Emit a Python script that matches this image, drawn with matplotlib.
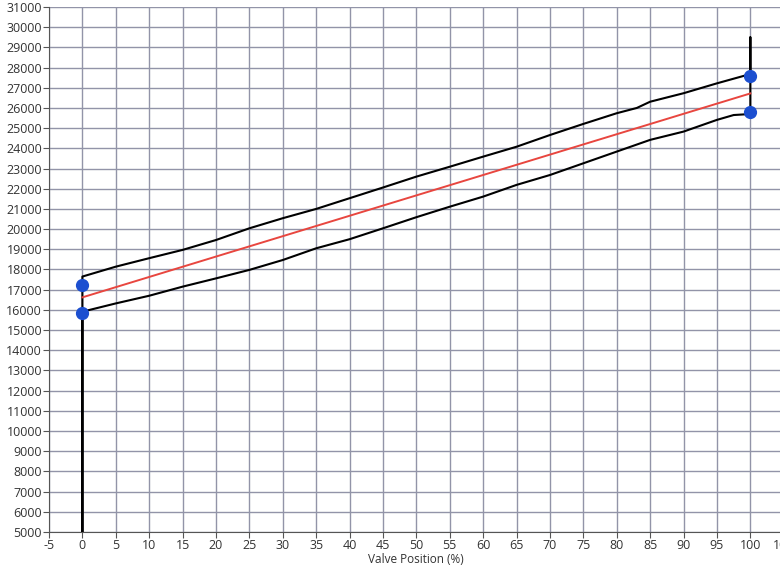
import matplotlib
matplotlib.use("Agg")
from matplotlib import pyplot as plt

# valve position (%) and thrust readings
up_x = [0, 0, 5, 10, 15, 20, 25, 30, 35, 40, 45, 50, 55, 60, 65, 70, 75,
        80, 83, 85, 90, 95, 100, 100]
up_y = [4800, 17650, 18140, 18560, 18970, 19460, 20040, 20540, 21000, 21530,
        22060, 22600, 23090, 23590, 24080, 24660, 25210, 25740, 26000, 26310,
        26730, 27220, 27680, 29500]
down_x = [100, 100, 97.5, 95, 90, 85, 80, 75, 70, 65, 60, 55, 50, 45, 40,
          35, 30, 25, 20, 15, 10, 5, 0, 0]
down_y = [29500, 25700, 25650, 25410, 24830, 24420, 23840, 23260, 22680,
          22190, 21610, 21110, 20590, 20040, 19500, 19050, 18470, 17980,
          17560, 17150, 16700, 16320, 15910, 4800]
fit_x = [0, 100]
fit_y = [16620, 26720]
mark_x = [0, 0, 100, 100]
mark_y = [17250, 15850, 27600, 25800]

x_ticks = list(range(-5, 106, 5))
y_ticks = list(range(5000, 31001, 1000))

plt.rcParams["font.family"] = ["Open Sans", "DejaVu Sans"]
plt.rcParams["axes.unicode_minus"] = False

fig = plt.figure(figsize=(7.8, 5.7), dpi=100)
ax = fig.add_axes([0.0628, 0.0667, 0.942, 0.921])

ax.plot(up_x + down_x, up_y + down_y, color="black", lw=1.5, zorder=3)
ax.plot(fit_x, fit_y, color="#e8463f", lw=1.4, zorder=4)
ax.plot(mark_x, mark_y, "o", color="#1c4fd0", ms=8.5, zorder=5)

ax.set_xlim(-5, 105)
ax.set_ylim(5000, 31000)
ax.set_xticks(x_ticks)
ax.set_yticks(y_ticks)
ax.grid(True, color="#9294a8", lw=1.0)
ax.set_axisbelow(True)

for side in ("top", "right"):
    ax.spines[side].set_visible(False)
for side in ("left", "bottom"):
    ax.spines[side].set_color("#555555")
ax.tick_params(direction="out", length=4, color="#555555",
               labelsize=9, labelcolor="#333333", pad=1)

ax.set_xlabel("Valve Position (%)", fontsize=8.5, color="#333333", labelpad=1)
ax.set_ylabel("Thrust (lbf)", fontsize=8.5, color="#333333")
ax.yaxis.set_label_coords(-0.072, 0.5)

fig.savefig("out.png", dpi=100)
